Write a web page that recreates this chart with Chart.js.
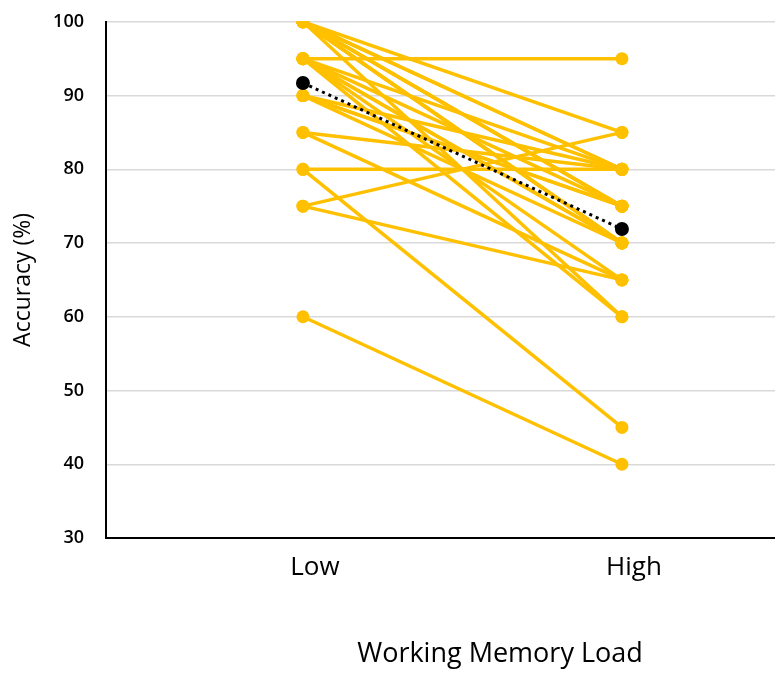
<!DOCTYPE html>
<html>
<head>
<meta charset="utf-8">
<script src="https://cdn.jsdelivr.net/npm/chart.js@4.4.0/dist/chart.umd.min.js"></script>
<style>
  html, body { margin: 0; padding: 0; background: #fff; width: 775px; height: 674px; overflow: hidden; }
  #chart { display: block; margin-top: -11px; }
</style>
</head>
<body>
<canvas id="chart" width="901" height="685"></canvas>
<script>
// categories on the x axis
const loadLabels = ["Low", "High"];

// one entry per participant: accuracy under low and high load
const lowScores  = [100, 100, 100, 100, 100, 100, 100, 100, 100, 100,
                    95, 95, 95, 95, 95, 95, 95,
                    90, 90, 90, 90,
                    85, 85,
                    80, 80,
                    75, 75,
                    60];
const highScores = [85, 80, 80, 75, 75, 75, 70, 70, 70, 60,
                    95, 80, 75, 70, 70, 65, 60,
                    80, 75, 75, 70,
                    80, 65,
                    80, 45,
                    85, 65,
                    40];

// group means (black dots)
const meanScores = [91.7, 71.9];

const yTicks = [30, 40, 50, 60, 70, 80, 90, 100];

const yellow = "#FFC000";

// mean line first so it is drawn on top
const datasets = [{
    data: meanScores.map((v, i) => ({ x: i, y: v })),
    borderColor: "#000",
    backgroundColor: "#000",
    borderWidth: 3,
    borderDash: [3, 4],
    pointRadius: 7,
    pointBorderWidth: 0,
}];

lowScores.forEach((low, i) => {
    datasets.push({
        data: [{ x: 0, y: low }, { x: 1, y: highScores[i] }],
        borderColor: yellow,
        backgroundColor: yellow,
        borderWidth: 3.5,
        pointRadius: 6.5,
        pointBorderWidth: 0,
    });
});

const font = "'Open Sans', 'Noto Sans', sans-serif";

new Chart(document.getElementById("chart"), {
    type: "line",
    data: { datasets: datasets },
    options: {
        responsive: false,
        animation: false,
        plugins: {
            legend: { display: false },
            tooltip: { enabled: false },
        },
        scales: {
            x: {
                type: "linear",
                min: -0.6175,
                max: 1.853,
                afterBuildTicks: (scale) => {
                    scale.ticks = loadLabels.map((_, i) => ({ value: i }));
                },
                afterFit: (scale) => { scale.height = 136; },
                grid: { display: false, drawTicks: false },
                border: { display: true, color: "#000", width: 2 },
                ticks: {
                    color: "#000",
                    padding: 14,
                    labelOffset: 12,
                    font: { family: font, size: 26 },
                    callback: (v) => loadLabels[v] ?? "",
                },
                title: {
                    display: true,
                    text: "Working Memory Load",
                    color: "#000",
                    font: { family: font, size: 27 },
                    padding: { top: 0, bottom: 3 },
                },
            },
            y: {
                min: 30,
                max: 100,
                afterBuildTicks: (scale) => {
                    scale.ticks = yTicks.map((v) => ({ value: v }));
                },
                afterFit: (scale) => { scale.width = 106; },
                grid: { color: "#d9d9d9", lineWidth: 1.5, drawTicks: false },
                border: { display: true, color: "#000", width: 2 },
                ticks: {
                    color: "#000",
                    padding: 22,
                    font: { family: font, size: 18, weight: "600" },
                },
                title: {
                    display: true,
                    text: "Accuracy (%)",
                    color: "#000",
                    font: { family: font, size: 23 },
                    padding: { top: 10, bottom: 0 },
                },
            },
        },
    },
});
</script>
</body>
</html>
